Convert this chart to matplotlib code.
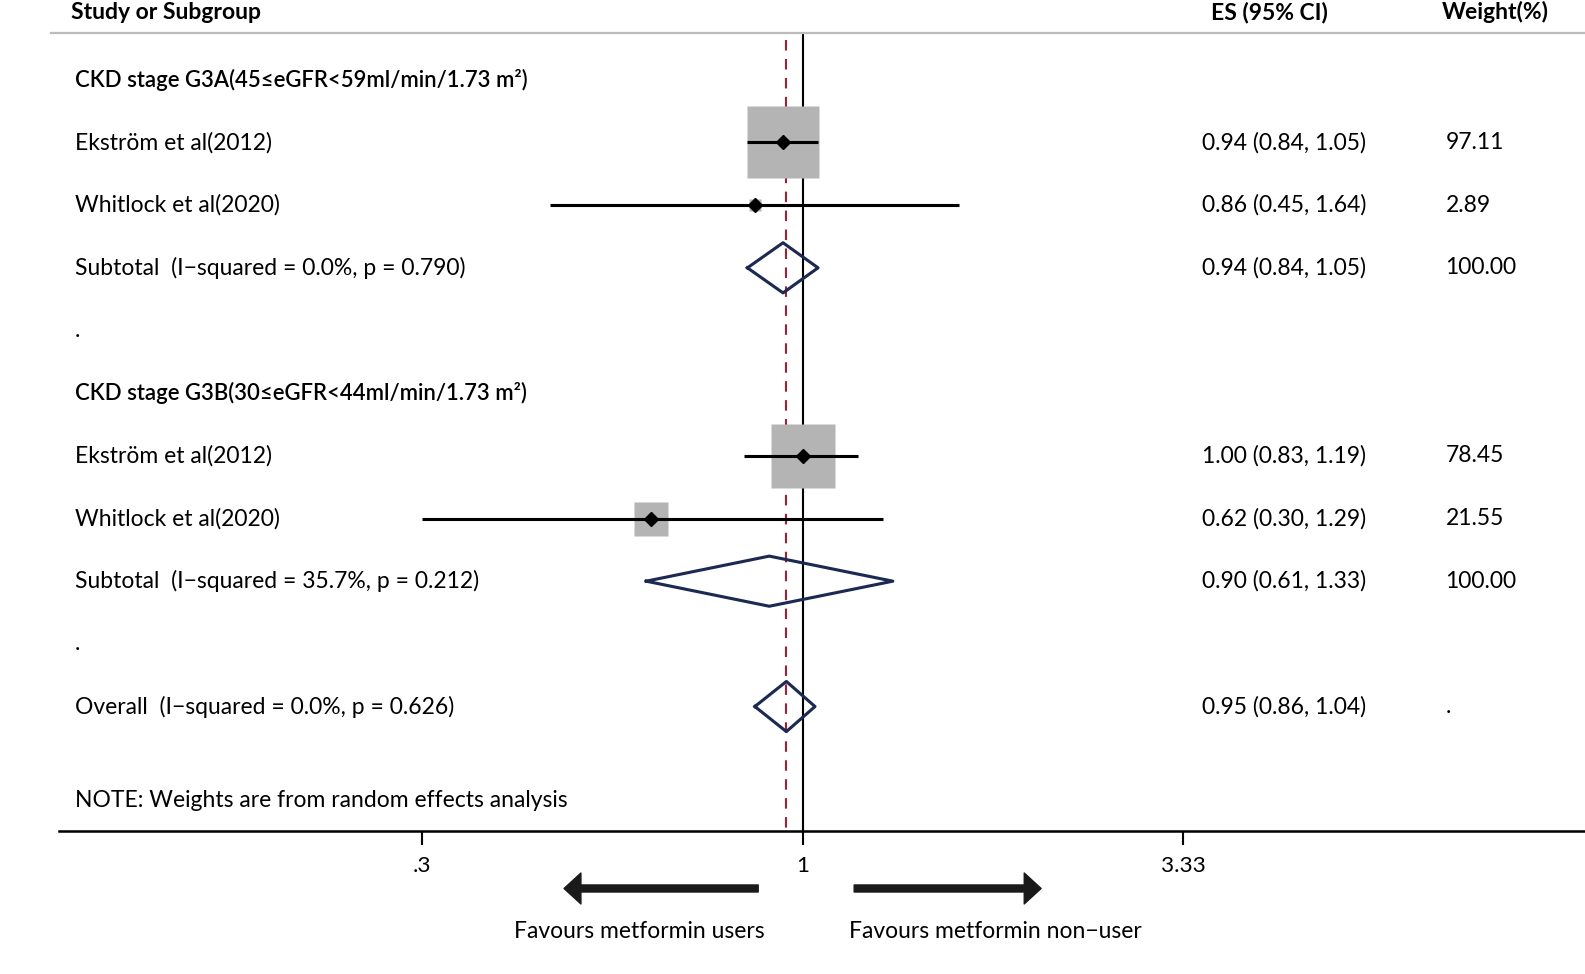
import numpy as np
import matplotlib.pyplot as plt

plt.rcParams['font.family'] = ['Lato', 'DejaVu Sans']

# rows of the forest plot, top to bottom
row_labels = [
    "CKD stage G3A(45≤eGFR<59ml/min/1.73 m²)",
    "Ekström et al(2012)",
    "Whitlock et al(2020)",
    "Subtotal  (I−squared = 0.0%, p = 0.790)",
    ".",
    "CKD stage G3B(30≤eGFR<44ml/min/1.73 m²)",
    "Ekström et al(2012)",
    "Whitlock et al(2020)",
    "Subtotal  (I−squared = 35.7%, p = 0.212)",
    ".",
    "Overall  (I−squared = 0.0%, p = 0.626)",
]
row_kind = ["head", "study", "study", "pooled", "blank",
            "head", "study", "study", "pooled", "blank", "pooled"]
es = [np.nan, 0.94, 0.86, 0.94, np.nan, np.nan, 1.00, 0.62, 0.90, np.nan, 0.95]
ci_low = [np.nan, 0.84, 0.45, 0.84, np.nan, np.nan, 0.83, 0.30, 0.61, np.nan, 0.86]
ci_high = [np.nan, 1.05, 1.64, 1.05, np.nan, np.nan, 1.19, 1.29, 1.33, np.nan, 1.04]
weights = [np.nan, 97.11, 2.89, 100.00, np.nan, np.nan, 78.45, 21.55, 100.00, np.nan, np.nan]
overall_es = 0.95

xticks = [0.3, 1, 3.33]
xtick_labels = [".3", "1", "3.33"]
note = "NOTE: Weights are from random effects analysis"

# layout measured on a 1568-wide copy, saved at 1585 px
W, H = 1568, 963.6
DPI = 1585 / 15.68
fig = plt.figure(figsize=(W / 100, H / 100), dpi=DPI)
ax_l, ax_r, ax_t, ax_b = 58, 1568, 33, 822
ax = fig.add_axes([ax_l / W, 1 - ax_b / H, (ax_r - ax_l) / W, (ax_b - ax_t) / H])

ax.set_xscale('log')
ax.set_xlim(np.exp((ax_l - 794) / 313), np.exp((ax_r - 794) / 313))
ax.set_ylim(11.984, -0.742)

y = np.arange(len(row_labels))
FS = 16.3

# reference lines
ax.axvline(1, color='black', lw=1.5, zorder=1)
ax.plot([overall_es, overall_es], [-0.63, 11.984], color='#9b2335', lw=1.5,
        dashes=(5, 4), zorder=1)

max_w = max(w for k, w in zip(row_kind, weights) if k == "study")
for i, kind in enumerate(row_kind):
    if kind == "study":
        side = 51.1 * np.sqrt(weights[i] / max_w)
        ax.plot(es[i], y[i], marker='s', ms=side, color='#b4b4b4', mec='none', zorder=2)
        ax.plot([ci_low[i], ci_high[i]], [y[i], y[i]], color='black', lw=2.2,
                solid_capstyle='butt', zorder=3)
        ax.plot(es[i], y[i], marker='D', ms=7.5, color='black', zorder=4)
    elif kind == "pooled":
        dx = [ci_low[i], es[i], ci_high[i], es[i], ci_low[i]]
        dy = [y[i], y[i] - 0.4, y[i], y[i] + 0.4, y[i]]
        ax.plot(dx, dy, color='#1c2951', lw=2.2, zorder=3)

# text columns
tr = ax.get_yaxis_transform()
col_label = (74 - ax_l) / (ax_r - ax_l)
col_es = (1189 - ax_l) / (ax_r - ax_l)
col_w = (1430 - ax_l) / (ax_r - ax_l)
for i, kind in enumerate(row_kind):
    if kind == "head":
        ax.text(col_label, y[i], row_labels[i], transform=tr, ha='left', va='center',
                fontsize=15.8, fontweight='semibold')
    else:
        ax.text(col_label, y[i], row_labels[i], transform=tr, ha='left', va='center',
                fontsize=FS)
    if not np.isnan(es[i]):
        ax.text(col_es, y[i], f"{es[i]:.2f} ({ci_low[i]:.2f}, {ci_high[i]:.2f})",
                transform=tr, ha='left', va='center', fontsize=FS)
        wtxt = f"{weights[i]:.2f}" if not np.isnan(weights[i]) else "."
        ax.text(col_w, y[i], wtxt, transform=tr, ha='left', va='center', fontsize=FS)
ax.text(col_label, 11.5, note, transform=tr, ha='left', va='center', fontsize=FS)

# column headers
hy = (ax_b - 12) / (ax_b - ax_t)
for xp, txt in [(70, "Study or Subgroup"), (1198, "ES (95% CI)"), (1426, "Weight(%)")]:
    ax.text((xp - ax_l) / (ax_r - ax_l), hy, txt, transform=ax.transAxes,
            ha='left', va='center', fontsize=FS, fontweight='bold')

# header rule, starting a little left of the axis
fig.add_artist(plt.Line2D([50 / W, 1.0], [1 - ax_t / H, 1 - ax_t / H],
                          color='#bcbcbc', lw=1.6))

# axes styling
for s in ['left', 'right', 'top']:
    ax.spines[s].set_visible(False)
ax.spines['bottom'].set_linewidth(1.8)
ax.set_yticks([])
ax.set_xticks(xticks)
ax.set_xticklabels(xtick_labels)
ax.xaxis.set_minor_locator(plt.NullLocator())
ax.tick_params(axis='x', length=10, width=1.5, pad=8, labelsize=16)

# direction arrows
ay = -(879 - ax_b) / (ax_b - ax_t)
arrow_kw = dict(width=5, headwidth=22, headlength=12, shrink=0,
                facecolor='#1a1a1a', edgecolor='#1a1a1a')
ax.annotate('', xy=(0.4705, ay), xytext=(0.869, ay),
            xycoords=('data', 'axes fraction'), arrowprops=arrow_kw)
ax.annotate('', xy=(2.125, ay), xytext=(1.177, ay),
            xycoords=('data', 'axes fraction'), arrowprops=arrow_kw)
ly = -(922 - ax_b) / (ax_b - ax_t)
ax.text(0.596, ly, "Favours metformin users", transform=ax.get_xaxis_transform(),
        ha='center', va='center', fontsize=FS)
ax.text(1.838, ly, "Favours metformin non−user", transform=ax.get_xaxis_transform(),
        ha='center', va='center', fontsize=FS)

fig.savefig('out.png', dpi=DPI)
